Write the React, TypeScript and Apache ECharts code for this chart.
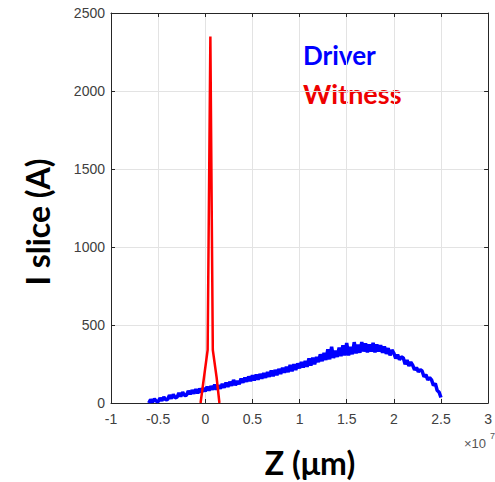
import React, { useEffect, useRef } from "react";
import * as echarts from "echarts";

const xTickMin = -1;
const xTickMax = 3;
const yTickMax = 2500;

const driverStart = -0.6;
const driverStep = 0.02;
const driverValues = [
  0, 22, 5, 26, 12,
  8, 32, 14, 38, 20,
  22, 50, 28, 55, 34,
  36, 64, 42, 70, 48,
  50, 78, 56, 82, 60,
  88, 62, 92, 68, 96,
  74, 104, 80, 108, 86,
  118, 86, 112, 92, 122,
  98, 130, 104, 136, 110,
  148, 114, 142, 120, 156,
  130, 162, 136, 170, 140,
  178, 144, 182, 150, 186,
  156, 192, 162, 198, 168,
  208, 172, 212, 178, 218,
  186, 226, 194, 232, 198,
  244, 204, 248, 212, 254,
  222, 262, 228, 270, 232,
  286, 240, 290, 248, 296,
  262, 312, 268, 322, 276,
  345, 280, 360, 288, 335,
  295, 355, 300, 370, 305,
  385, 305, 360, 312, 390,
  318, 375, 322, 390, 330,
  382, 325, 375, 330, 385,
  325, 375, 330, 370, 322,
  362, 315, 352, 305, 340,
  320, 285, 310, 278, 295,
  290, 248, 275, 238, 262,
  242, 212, 228, 200, 214,
  205, 168, 182, 148, 162,
  148, 112, 126, 80, 70,
  35,
];

const witnessZ = [-0.05, 0.025, 0.054, 0.08, 0.12, 0.15];
const witnessI = [0, 340, 2350, 340, 165, 0];

export default function App() {
  const ref = useRef<HTMLDivElement>(null);
  useEffect(() => {
    if (!ref.current) return;
    const chart = echarts.init(ref.current, null, { renderer: "svg" });
    const driverData = driverValues.map((v, i) => [
      +(driverStart + i * driverStep).toFixed(3),
      v,
    ]);
    const witnessData = witnessZ.map((z, i) => [z, witnessI[i]]);
    const axisColor = "#262626";
    const labelStyle = {
      color: "#404040",
      fontSize: 14,
      fontFamily: "Liberation Sans, Arial, sans-serif",
    };
    chart.setOption({
      animation: false,
      grid: { left: 111, top: 13, width: 393.6, height: 390 },
      xAxis: [
        {
          type: "value",
          min: xTickMin,
          max: xTickMax,
          interval: 0.5,
          position: "bottom",
          axisLine: { show: true, onZero: false, lineStyle: { color: axisColor, width: 1 } },
          axisTick: { show: true, inside: true, length: 4, lineStyle: { color: axisColor } },
          axisLabel: { ...labelStyle, margin: 9, formatter: (v: number) => String(v) },
          splitLine: { show: true, lineStyle: { color: "#e3e3e3", width: 1 } },
        },
        {
          type: "value",
          min: xTickMin,
          max: xTickMax,
          interval: 0.5,
          position: "top",
          axisLine: { show: true, onZero: false, lineStyle: { color: axisColor, width: 1 } },
          axisTick: { show: true, inside: true, length: 4, lineStyle: { color: axisColor } },
          axisLabel: { show: false },
          splitLine: { show: false },
        },
      ],
      yAxis: [
        {
          type: "value",
          min: 0,
          max: yTickMax,
          interval: 500,
          position: "left",
          axisLine: { show: true, onZero: false, lineStyle: { color: axisColor, width: 1 } },
          axisTick: { show: true, inside: true, length: 4, lineStyle: { color: axisColor } },
          axisLabel: { ...labelStyle, margin: 6, formatter: (v: number) => String(v) },
          splitLine: { show: true, lineStyle: { color: "#e3e3e3", width: 1 } },
        },
        {
          type: "value",
          min: 0,
          max: yTickMax,
          interval: 500,
          position: "right",
          axisLine: { show: true, onZero: false, lineStyle: { color: axisColor, width: 1 } },
          axisTick: { show: true, inside: true, length: 4, lineStyle: { color: axisColor } },
          axisLabel: { show: false },
          splitLine: { show: false },
        },
      ],
      series: [
        {
          name: "Driver",
          type: "line",
          data: driverData,
          showSymbol: false,
          lineStyle: { color: "#0000ff", width: 3.5 },
          itemStyle: { color: "#0000ff" },
          z: 2,
        },
        {
          name: "Witness",
          type: "line",
          data: witnessData,
          showSymbol: false,
          lineStyle: { color: "#ff0000", width: 2.5 },
          itemStyle: { color: "#ff0000" },
          z: 3,
        },
      ],
      graphic: [
        {
          type: "text",
          left: 303,
          top: 42,
          style: { text: "Driver", fill: "#0000ff", font: "bold 26px Lato, sans-serif" },
        },
        {
          type: "text",
          left: 303,
          top: 80,
          style: { text: "Witness", fill: "#ee0000", font: "bold 27px Lato, sans-serif" },
        },
        {
          type: "text",
          x: 37,
          y: 222,
          rotation: Math.PI / 2,
          style: {
            text: "I slice (A)",
            fill: "#000",
            font: "bold 32px Lato, sans-serif",
            align: "center",
            verticalAlign: "middle",
          },
        },
        {
          type: "text",
          x: 310,
          y: 462,
          style: {
            text: "Z (μm)",
            fill: "#000",
            font: "bold 32px Lato, sans-serif",
            align: "center",
            verticalAlign: "middle",
          },
        },
        {
          type: "text",
          x: 464,
          y: 443,
          style: {
            text: "×10",
            fill: "#555",
            font: "13px Liberation Sans, Arial, sans-serif",
            verticalAlign: "middle",
          },
        },
        {
          type: "text",
          x: 490,
          y: 436,
          style: {
            text: "7",
            fill: "#555",
            font: "9px Liberation Sans, Arial, sans-serif",
            verticalAlign: "middle",
          },
        },
      ],
    });
    return () => chart.dispose();
  }, []);
  return (
    <div
      ref={ref}
      style={{ position: "absolute", left: 0, top: 0, width: 495, height: 482 }}
    />
  );
}
